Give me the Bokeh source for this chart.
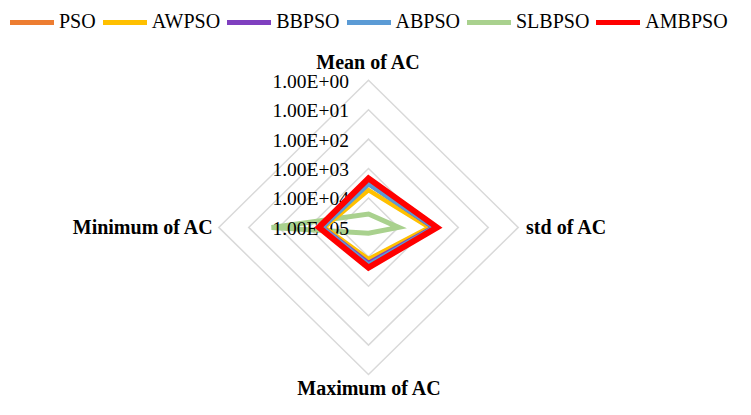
import numpy as np
from bokeh.plotting import figure
from bokeh.models import Range1d, Legend, LegendItem
from bokeh.core.properties import value
from bokeh.embed import file_html
from bokeh.resources import INLINE

# ---------------- data ----------------
categories = ["Mean of AC", "std of AC", "Maximum of AC", "Minimum of AC"]
tick_values = [1e0, 1e1, 1e2, 1e3, 1e4, 1e5]
tick_labels = ["1.00E+00", "1.00E+01", "1.00E+02", "1.00E+03", "1.00E+04", "1.00E+05"]

series_names = ["PSO", "AWPSO", "BBPSO", "ABPSO", "SLBPSO", "AMBPSO"]
pso = [3300, 650, 5500, 3000]
awpso = [5400, 950, 8300, 3400]
bbpso = [3200, 700, 6200, 2900]
abpso = [3400, 650, 5400, 2900]
slbpso = [35000, 9800, 63000, 58]
ambpso = [2150, 515, 4300, 2200]
series_values = [pso, awpso, bbpso, abpso, slbpso, ambpso]

colors = ["#ED7D31", "#FFC000", "#7F3FBF", "#5B9BD5", "#A9D18E", "#FF0000"]
widths = [4.5, 4.5, 4.5, 4.5, 5, 6]

# ---------------- layout (in reference-pixel units, mapped onto the canvas) ----------------
W, H = 735, 399
RW, RH = 751, 415
cx, cy = 376, 236
step = 30.6
top_exp = np.log10(tick_values[-1])
dirs = [(0, -1), (1, 0), (0, 1), (-1, 0)]


def radius(v):
    return max(0.0, (top_exp - np.log10(v)) * step)


def polygon(vals):
    xs, ys = [], []
    for v, (dx, dy) in zip(vals, dirs):
        r = radius(v)
        xs.append(cx + dx * r)
        ys.append(cy + dy * r)
    return xs, ys


p = figure(width=W, height=H, x_range=Range1d(0, RW), y_range=Range1d(RH, 0),
           output_backend="svg", toolbar_location=None, min_border=0,
           x_axis_type=None, y_axis_type=None)
p.grid.visible = False
p.outline_line_color = None
p.background_fill_color = "white"

# rings
ring_xs, ring_ys = [], []
for tv in tick_values[:-1]:
    xs, ys = polygon([tv] * 4)
    ring_xs.append(xs)
    ring_ys.append(ys)
p.patches(ring_xs, ring_ys, fill_color=None, line_color="#D9D9D9", line_width=1.5,
          line_join="miter")

font = value("Liberation Serif")
legend_renderers = {}


def draw_series(i):
    xs, ys = polygon(series_values[i])
    p.patch(xs, ys, fill_color=None, line_color=colors[i], line_width=widths[i],
            line_join="miter")
    legend_renderers[i] = p.line(x=[np.nan, np.nan], y=[np.nan, np.nan],
                                 line_color=colors[i], line_width=5, line_cap="round")


# green series first (behind the tick labels)
draw_series(4)

# radial tick labels
ty = [cy - radius(v) + 1 for v in tick_values]
tx = [cx - 20] * len(tick_values)
p.text(x=tx, y=ty, text=tick_labels, text_font=font, text_font_size="19.5px",
       text_align="right", text_baseline="middle", text_color="#000000")

for i in [0, 1, 2, 3, 5]:
    draw_series(i)

# category labels
R = radius(tick_values[0])
cat_x = [cx, cx + R + 8, cx + 1, cx - R - 5]
cat_y = [64, cy, 403, cy]
aligns = ["center", "left", "center", "right"]
for c, x, y, a in zip(categories, cat_x, cat_y, aligns):
    p.text(x=[x], y=[y], text=[c], text_font=font, text_font_size="20px",
           text_font_style="bold", text_align=a, text_baseline="middle",
           text_color="#000000")

legend = Legend(items=[LegendItem(label=series_names[i], renderers=[legend_renderers[i]])
                       for i in range(6)],
                orientation="horizontal", location="top_left", margin=10, padding=0,
                spacing=7, glyph_width=44, glyph_height=20, label_standoff=5,
                label_text_font="Liberation Serif", label_text_font_size="20px",
                label_text_color="#000000",
                border_line_color=None, background_fill_alpha=0)
p.add_layout(legend)

open("out.html", "w").write(file_html(p, INLINE))
